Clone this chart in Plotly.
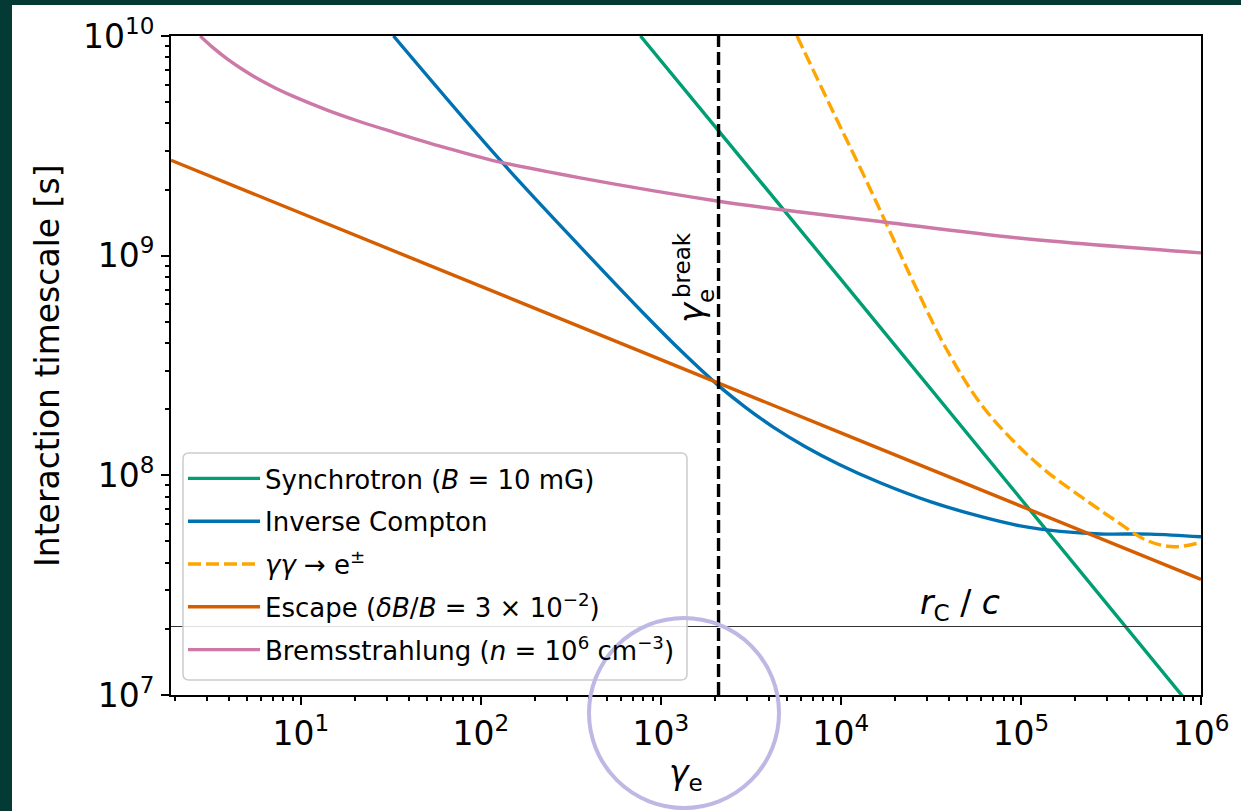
import plotly.graph_objects as go

# ---------------- data ----------------
gamma_sync = [7.7e2, 2.1e3, 1e4, 1e5, 1e6]
t_sync = [1.0e10, 3.7e9, 7.8e8, 7.8e7, 7.8e6]

gamma_ic = [32.7, 128, 356, 836, 1318, 2089, 2951, 4227, 6310, 9660, 1.652e4, 3.133e4, 5.943e4, 9.908e4,
            1.652e5, 2.754e5, 5.224e5, 1e6]
t_ic = [1.0e10, 2.72e9, 1.10e9, 5.27e8, 3.63e8, 2.56e8, 2.04e8, 1.654e8, 1.354e8, 1.127e8, 9.25e7, 7.59e7,
        6.50e7, 5.89e7, 5.56e7, 5.41e7, 5.40e7, 5.25e7]

gamma_gg = [5.70e3, 8.73e3, 1.34e4, 1.80e4, 2.54e4, 3.88e4, 5.94e4, 9.10e4, 1.39e5, 2.13e5, 3.27e5, 5.01e5,
            7.08e5, 1e6]
t_gg = [1.0e10, 4.80e9, 2.32e9, 1.38e9, 7.50e8, 3.72e8, 2.13e8, 1.43e8, 1.04e8, 8.05e7, 6.31e7, 5.05e7,
        4.73e7, 4.95e7]

gamma_esc = [1.9, 10, 100, 1e3, 1e4, 1e5, 1e6]
t_esc = [2.72e9, 1.56e9, 7.24e8, 3.36e8, 1.56e8, 7.24e7, 3.36e7]

gamma_brems = [2.76, 3.25, 3.88, 4.80, 5.94, 7.3, 9.10, 14.0, 21.4, 32.7, 62, 117, 356, 2090, 5940, 1.65e4,
               1e5, 1e6]
t_brems = [1.0e10, 8.85e9, 7.89e9, 7.00e9, 6.30e9, 5.77e9, 5.31e9, 4.60e9, 4.07e9, 3.65e9, 3.12e9, 2.71e9,
           2.26e9, 1.77e9, 1.58e9, 1.43e9, 1.2e9, 1.03e9]

gamma_break = 2.09e3
t_rc = 2.05e7

x_range = [1.9, 1e6]
y_range = [1e7, 1e10]

x_tickvals = [1e1, 1e2, 1e3, 1e4, 1e5, 1e6]
x_ticktext = ["10<sup>1</sup>", "10<sup>2</sup>", "10<sup>3</sup>", "10<sup>4</sup>", "10<sup>5</sup>", "10<sup>6</sup>"]
y_tickvals = [1e7, 1e8, 1e9, 1e10]
y_ticktext = ["10<sup>7</sup>", "10<sup>8</sup>", "10<sup>9</sup>", "10<sup>10</sup>"]

# ---------------- layout geometry ----------------
W, H = 1241, 811
ML, MR, MT, MB = 171, 40, 36, 116
PW, PH = W - ML - MR, H - MT - MB


def px(x):
    return (x - ML) / PW


def py(y):
    return (H - MB - y) / PH


def rounded_box(x0, y0, x1, y1, r):
    """Rounded rectangle path in paper coords from pixel box (top-left x0,y0 / bottom-right x1,y1)."""
    rx, ry = r / PW, r / PH
    X0, X1, Yt, Yb = px(x0), px(x1), py(y0), py(y1)
    return (f"M{X0 + rx},{Yt} L{X1 - rx},{Yt} Q{X1},{Yt} {X1},{Yt - ry} "
            f"L{X1},{Yb + ry} Q{X1},{Yb} {X1 - rx},{Yb} L{X0 + rx},{Yb} Q{X0},{Yb} {X0},{Yb + ry} "
            f"L{X0},{Yt - ry} Q{X0},{Yt} {X0 + rx},{Yt} Z")


FONT = "DejaVu Sans"
GREEN, BLUE, GOLD, VERM, PINK = "#009E73", "#0072B2", "#FFA500", "#D55E00", "#CC79A7"
LW = 3.4

fig = go.Figure()

fig.add_trace(go.Scatter(x=gamma_sync, y=t_sync, mode="lines", name="Synchrotron (<i>B</i> = 10 mG)",
                         line=dict(color=GREEN, width=LW), legendgroup="a"))
fig.add_trace(go.Scatter(x=gamma_ic, y=t_ic, mode="lines", name="Inverse Compton",
                         line=dict(color=BLUE, width=LW, shape="spline", smoothing=1.0, simplify=False),
                         legendgroup="b"))
fig.add_trace(go.Scatter(x=gamma_gg, y=t_gg, mode="lines", name="<i>γγ</i> → e<sup>±</sup>",
                         line=dict(color=GOLD, width=LW, dash="13px,5px", shape="spline", smoothing=1.0,
                                   simplify=False),
                         legendgroup="c"))
fig.add_trace(go.Scatter(x=gamma_esc, y=t_esc, mode="lines",
                         name="Escape (<i>δB</i>/<i>B</i> = 3 × 10<sup>−2</sup>)",
                         line=dict(color=VERM, width=LW), legendgroup="d"))
fig.add_trace(go.Scatter(x=gamma_brems, y=t_brems, mode="lines",
                         name="Bremsstrahlung (<i>n</i> = 10<sup>6</sup> cm<sup>−3</sup>)",
                         line=dict(color=PINK, width=LW, shape="spline", smoothing=1.0, simplify=False),
                         legendgroup="e"))

# reference lines
fig.add_trace(go.Scatter(x=x_range, y=[t_rc, t_rc], mode="lines", showlegend=False,
                         line=dict(color="#333333", width=1.2)))
fig.add_trace(go.Scatter(x=[gamma_break, gamma_break], y=y_range, mode="lines", showlegend=False,
                         line=dict(color="black", width=3.4, dash="13px,5px")))

minor_x = [k * 10 ** n for n in range(0, 6) for k in range(2, 10) if k * 10 ** n >= 1.9]
minor_y = [k * 10 ** n for n in range(7, 10) for k in range(2, 10)]

axis_common = dict(type="log", showgrid=False, zeroline=False, showline=True, linecolor="black",
                   linewidth=2, mirror=True, ticks="outside", ticklen=8, tickwidth=2, tickcolor="black",
                   tickfont=dict(family=FONT, size=33, color="black"), automargin=False)

fig.update_xaxes(**axis_common, range=[0.2788, 6], tickmode="array", tickvals=x_tickvals, ticktext=x_ticktext,
                 minor=dict(ticks="outside", ticklen=4, tickwidth=1.5, tickcolor="black",
                            tickmode="array", tickvals=minor_x, showgrid=False))
fig.update_yaxes(**axis_common, range=[7, 10], tickmode="array", tickvals=y_tickvals, ticktext=y_ticktext,
                 minor=dict(ticks="outside", ticklen=4, tickwidth=1.5, tickcolor="black",
                            tickmode="array", tickvals=minor_y, showgrid=False))

annotations = [
    dict(text="Interaction timescale [s]", x=px(47), y=py(366), textangle=-90,
         font=dict(family=FONT, size=33, color="black")),
    dict(text="<i>γ</i><sub>e</sub>", x=px(686), y=py(774), font=dict(family=FONT, size=33, color="black")),
    dict(text="<i>r</i><sub>C</sub> / <i>c</i>", x=px(960), y=py(604),
         font=dict(family=FONT, size=33, color="black")),
    dict(text="<i>γ</i>", x=px(691), y=py(312), textangle=-90, font=dict(family=FONT, size=34, color="black")),
    dict(text="e", x=px(706), y=py(296), textangle=-90, font=dict(family=FONT, size=23, color="black")),
    dict(text="break", x=px(682), y=py(265), textangle=-90, font=dict(family=FONT, size=23, color="black")),
]
for a in annotations:
    a.update(xref="paper", yref="paper", showarrow=False, xanchor="center", yanchor="middle")

shapes = [
    # legend frame (rounded, semi-opaque white)
    dict(type="path", xref="paper", yref="paper", path=rounded_box(183, 453, 687, 680, 6),
         fillcolor="rgba(255,255,255,0.85)", line=dict(color="#cccccc", width=1.5), layer="above"),
    # dark page border strips
    dict(type="rect", xref="paper", yref="paper", x0=px(0), x1=px(12), y0=py(H), y1=py(0),
         fillcolor="#033B34", line=dict(width=0), layer="above"),
    dict(type="rect", xref="paper", yref="paper", x0=px(0), x1=px(W), y0=py(5), y1=py(0),
         fillcolor="#033B34", line=dict(width=0), layer="above"),
    # highlight circle
    dict(type="circle", xref="paper", yref="paper", x0=px(589), x1=px(779), y0=py(808), y1=py(618),
         line=dict(color="#BDB8E4", width=4), layer="above"),
]

fig.update_layout(
    width=W, height=H,
    margin=dict(l=ML, r=MR, t=MT, b=MB, pad=0),
    paper_bgcolor="white", plot_bgcolor="white",
    font=dict(family=FONT, color="black"),
    showlegend=True,
    legend=dict(x=px(183), y=py(455), xanchor="left", yanchor="top",
                bgcolor="rgba(0,0,0,0)", borderwidth=0,
                font=dict(family=FONT, size=26, color="black"), tracegroupgap=6,
                itemwidth=72),
    annotations=annotations,
    shapes=shapes,
)

fig.write_html("out.html")
